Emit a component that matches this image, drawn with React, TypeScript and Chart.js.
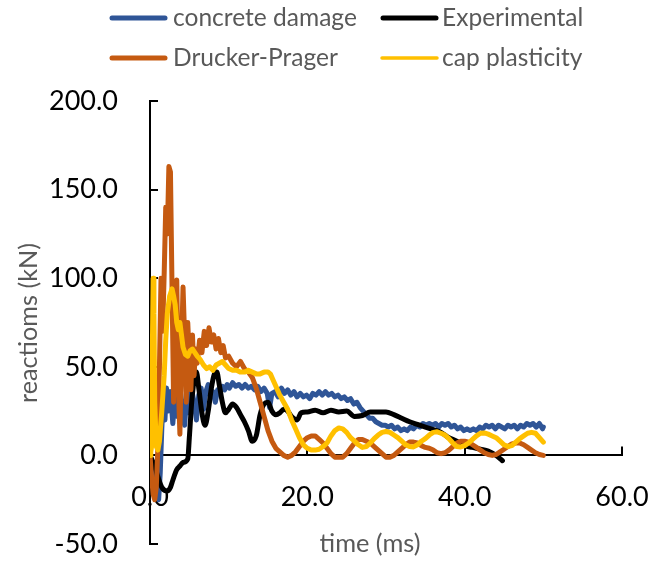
import React, { useEffect, useRef } from "react";
import { Chart, registerables } from "chart.js";

Chart.register(...registerables);

const FONT = "Lato, 'Liberation Sans', sans-serif";

// ---- axis ticks ----
const xTicks = [0, 20, 40, 60];
const yTicks = [-50, 0, 50, 100, 150, 200];

// ---- series labels ----
const labelConcrete = "concrete damage";
const labelExperimental = "Experimental";
const labelDrucker = "Drucker-Prager";
const labelCap = "cap plasticity";

// ---- Experimental (black) ----
const expT = [0, 0.5, 1.0, 1.5, 2.0, 2.2, 2.6, 2.9, 3.4, 3.8, 4.2, 4.8, 5.0, 5.3, 5.6, 5.9, 6.2, 6.6, 7.0, 7.4, 7.8, 8.2, 8.5, 8.8, 9.2, 9.6, 10.0, 10.5, 11.0, 11.5, 12.0, 12.5, 13.0, 13.5, 14.0, 14.5, 15.0, 15.5, 16.0, 16.5, 17.0, 17.5, 18.0, 18.7, 19.2, 20.0, 21.0, 22.0, 23.0, 24.0, 25.0, 26.0, 27.0, 28.0, 29.0, 30.0, 31.0, 32.0, 33.0, 34.0, 35.0, 36.0, 37.0, 38.0, 39.0, 40.0, 41.0, 42.0, 43.0, 44.0, 44.8];
const expV = [0, -5, -12, -18, -20, -20, -18, -14, -8, -6, -4, -2, 10, 30, 42, 47, 38, 24, 17, 25, 38, 46, 47, 40, 30, 24, 26, 29, 27, 23, 19, 14, 8, 11, 23, 29, 30, 25, 23, 24, 26, 25, 22, 20, 24, 24.5, 25.5, 24, 25.5, 24.5, 25, 22, 22.5, 24.5, 24.5, 24.5, 23, 21, 19, 17.5, 16, 14.5, 13, 10, 8, 5.5, 4.5, 3.5, 2.5, 0, -3];

// ---- concrete damage (blue) ----
const cdT = [0, 0.3, 0.6, 0.9, 1.1, 1.3, 1.5, 1.7, 1.9, 2.1, 2.3, 2.6, 2.9, 3.2, 3.5, 3.8, 4.1, 4.4, 4.7, 5.0, 5.3, 5.6, 5.9, 6.2, 6.5, 6.8, 7.1, 7.4, 7.7, 8.0, 8.3, 8.6, 8.9, 9.2, 9.5, 9.8, 10.1, 10.5, 10.9, 11.3, 11.7, 12.1, 12.5, 12.9, 13.3, 13.7, 14.1, 14.5, 14.9, 15.2, 15.5, 15.9, 16.3, 16.7, 17.1, 17.5, 17.9, 18.3, 18.7, 19.1, 19.5, 19.9, 20.3, 20.7, 21.1, 21.5, 21.9, 22.3, 22.7, 23.1, 23.5, 23.9, 24.3, 24.7, 25.1, 25.5, 25.9, 26.3, 26.7, 27.1, 27.5, 27.9, 28.3, 28.7, 29.1, 29.5, 29.9, 30.3, 30.7, 31.1, 31.5, 31.9, 32.3, 32.7, 33.1, 33.5, 33.9, 34.3, 34.7, 35.1, 35.5, 35.9, 36.3, 36.7, 37.1, 37.5, 37.9, 38.3, 38.7, 39.1, 39.5, 39.9, 40.3, 40.7, 41.1, 41.5, 41.9, 42.3, 42.7, 43.1, 43.5, 43.9, 44.3, 44.7, 45.1, 45.5, 45.9, 46.3, 46.7, 47.1, 47.5, 47.9, 48.3, 48.7, 49.1, 49.5, 49.9, 50.0];
const cdV = [0, -5, -15, -23, -25, -10, 15, 35, 20, 38, 25, 36, 18, 35, 22, 38, 28, 17, 36, 24, 37, 30, 20, 34, 38, 26, 36, 40, 33, 36, 30, 37, 36, 39, 37, 40, 38, 41, 39, 40, 38, 40, 38, 39, 37, 39, 36, 38, 35, 27, 35, 36, 33, 38, 35, 37, 34, 36, 33, 35, 33, 34, 32, 35, 34, 36, 34, 36, 34, 35, 33, 34, 32, 33, 31, 32, 29, 30, 27, 25, 23, 21, 21, 19, 18, 17, 17, 16, 17, 15, 16, 14, 15, 14, 16, 15, 17, 16, 18, 17, 18, 17, 18, 16, 18, 17, 18, 16, 17, 15, 16, 14, 15, 14, 15, 14, 16, 15, 17, 16, 17, 15, 17, 16, 15, 17, 16, 17, 15, 17, 16, 18, 17, 18, 16, 18, 15, 16];

// ---- Drucker-Prager (orange) ----
const dpT = [0, 0.2, 0.4, 0.6, 0.8, 1.0, 1.2, 1.4, 1.6, 1.8, 2.0, 2.2, 2.4, 2.6, 2.8, 3.0, 3.2, 3.4, 3.6, 3.8, 4.0, 4.2, 4.4, 4.6, 4.8, 5.0, 5.2, 5.4, 5.6, 5.8, 6.0, 6.3, 6.6, 6.9, 7.2, 7.5, 7.8, 8.1, 8.4, 8.7, 9.0, 9.3, 9.6, 10.0, 10.5, 11.0, 11.5, 12.0, 12.5, 13.0, 13.5, 14.0, 14.5, 15.0, 15.5, 16.0, 16.5, 17.0, 17.5, 18.0, 18.5, 19.0, 19.5, 20.0, 20.5, 21.0, 21.5, 22.0, 22.5, 23.0, 23.5, 24.0, 24.5, 25.0, 25.5, 26.0, 26.5, 27.0, 27.5, 28.0, 28.5, 29.0, 29.5, 30.0, 30.5, 31.0, 31.5, 32.0, 32.5, 33.0, 33.5, 34.0, 34.5, 35.0, 35.5, 36.0, 36.5, 37.0, 37.5, 38.0, 38.5, 39.0, 39.5, 40.0, 40.5, 41.0, 41.5, 42.0, 42.5, 43.0, 43.5, 44.0, 44.5, 45.0, 45.5, 46.0, 46.5, 47.0, 47.5, 48.0, 48.5, 49.0, 49.5, 50.0];
const dpV = [0, -12, -22, -25, -18, 5, 50, 100, 70, 102, 140, 125, 163, 160, 95, 30, 85, 99, 40, 12, 60, 95, 67, 30, 75, 55, 37, 68, 45, 60, 52, 65, 58, 70, 62, 72, 64, 68, 60, 66, 58, 62, 55, 56, 52, 50, 53, 49, 47, 44, 38, 30, 22, 14, 8, 4, 2, 0, -1, 0, 2, 5, 8, 10, 11, 11, 9, 7, 4, 1, -1, -1, -1, 1, 4, 7, 9, 9, 8, 7, 5, 3, 1, -1, -1, 0, 2, 4, 6, 7.5, 7.5, 7, 5.5, 4.5, 4, 3, 1.5, 1, 1.5, 3, 5, 7, 8, 8, 7.5, 6, 4.5, 3, 1.5, 0.5, 0, 0.5, 2, 3.5, 5, 6.5, 7, 7, 6, 4.5, 3, 1.5, 0.5, 0];

// ---- cap plasticity (yellow) ----
const cpT = [0, 0.1, 0.2, 0.3, 0.4, 0.5, 0.6, 0.8, 1.0, 1.2, 1.5, 1.8, 2.0, 2.2, 2.5, 2.8, 3.0, 3.2, 3.4, 3.6, 3.8, 4.0, 4.2, 4.5, 4.8, 5.1, 5.4, 5.7, 6.0, 6.4, 6.8, 7.2, 7.6, 8.0, 8.4, 8.8, 9.2, 9.6, 10.0, 10.5, 11.0, 11.5, 12.0, 12.5, 13.0, 13.5, 14.0, 14.5, 15.0, 15.3, 15.6, 16.0, 16.5, 17.0, 17.5, 18.0, 18.5, 19.0, 19.5, 20.0, 20.5, 21.0, 21.5, 22.0, 22.5, 23.0, 23.5, 24.0, 24.5, 25.0, 25.5, 26.0, 26.5, 27.0, 27.5, 28.0, 28.5, 29.0, 29.5, 30.0, 30.5, 31.0, 31.5, 32.0, 32.5, 33.0, 33.5, 34.0, 34.5, 35.0, 35.5, 36.0, 36.5, 37.0, 37.5, 38.0, 38.5, 39.0, 39.5, 40.0, 40.5, 41.0, 41.5, 42.0, 42.5, 43.0, 43.5, 44.0, 44.5, 45.0, 45.5, 46.0, 46.5, 47.0, 47.5, 48.0, 48.5, 49.0, 49.5, 50.0];
const cpV = [0, 2, 5, 60, 100, 80, 30, 5, 3, 8, 25, 45, 65, 80, 90, 94, 90, 85, 75, 71, 75, 68, 61, 57, 56, 59, 60, 58, 56, 54, 51, 49, 50, 48, 51, 52, 53, 51, 49, 48, 48, 47, 47, 48, 47, 46, 46, 47, 47, 46, 43, 39, 34, 30, 26, 20, 15, 10, 6, 4, 3, 3, 3.5, 5, 7, 11, 14, 15.5, 15, 13, 10, 8, 6, 4.5, 5, 7, 9.5, 11.5, 13, 13.5, 13, 11.5, 10, 8, 6, 5, 4.8, 6, 8, 9.5, 11.5, 13, 13.3, 12.5, 11.5, 9.5, 7, 5, 4.8, 5.5, 7, 9, 11, 12.5, 12.7, 12, 11, 10, 8, 6, 5, 5.5, 7.5, 9.5, 11, 12.5, 13, 12.5, 10, 7.5];

const COLORS = {
  concrete: "#2F5597",
  experimental: "#000000",
  drucker: "#C55A11",
  cap: "#FFC000",
};

function pts(t: number[], v: number[]) {
  return t.map((x, i) => ({ x, y: v[i] }));
}

function fitFont(ctx: CanvasRenderingContext2D, text: string, target: number, base = 24) {
  ctx.font = `${base}px ${FONT}`;
  const w = ctx.measureText(text).width;
  return (base * target) / w;
}

const decorPlugin = {
  id: "decor",
  beforeDatasetsDraw(chart: any) {
    const { ctx, chartArea } = chart;
    const xs = chart.scales.x;
    const ys = chart.scales.y;
    const y0 = ys.getPixelForValue(0);
    ctx.save();
    ctx.strokeStyle = "#000";
    ctx.lineWidth = 2;
    ctx.beginPath();
    for (const v of yTicks) {
      const py = Math.round(ys.getPixelForValue(v));
      ctx.moveTo(chartArea.left, py);
      ctx.lineTo(chartArea.left + 8, py);
    }
    for (const v of xTicks) {
      const px = Math.round(xs.getPixelForValue(v));
      ctx.moveTo(px, y0);
      ctx.lineTo(px, y0 - 9);
    }
    ctx.stroke();
    ctx.restore();
  },
  afterDraw(chart: any) {
    const { ctx } = chart;
    ctx.save();
    // legend
    const ds = chart.data.datasets;
    const legendOrder = [
      { i: 0, x0: 112, x1: 165, tx: 173, y: 18, w: 5 },
      { i: 1, x0: 383, x1: 436, tx: 442, y: 18, w: 5 },
      { i: 2, x0: 112, x1: 165, tx: 173, y: 58, w: 5 },
      { i: 3, x0: 382, x1: 437, tx: 442, y: 58, w: 3.5 },
    ];
    const legSize = fitFont(ctx, labelConcrete, 184);
    ctx.font = `${legSize}px ${FONT}`;
    ctx.textBaseline = "middle";
    ctx.textAlign = "left";
    for (const it of legendOrder) {
      const d = ds[it.i];
      ctx.strokeStyle = d.borderColor;
      ctx.lineWidth = it.w;
      ctx.lineCap = "round";
      ctx.beginPath();
      ctx.moveTo(it.x0, it.y);
      ctx.lineTo(it.x1, it.y);
      ctx.stroke();
      ctx.fillStyle = "#595959";
      ctx.fillText(d.label, it.tx, it.y);
    }
    // x title
    const xt = "time (ms)";
    ctx.font = `${fitFont(ctx, xt, 101)}px ${FONT}`;
    ctx.fillStyle = "#595959";
    ctx.textAlign = "center";
    ctx.textBaseline = "middle";
    ctx.fillText(xt, 370, 544);
    // y title
    const yt = "reactioms (kN)";
    ctx.font = `${fitFont(ctx, yt, 160)}px ${FONT}`;
    ctx.translate(29, 323);
    ctx.rotate(-Math.PI / 2);
    ctx.fillText(yt, 0, 0);
    ctx.restore();
  },
};

export default function App() {
  const ref = useRef<HTMLCanvasElement | null>(null);
  useEffect(() => {
    if (!ref.current) return;
    const tickFont = { family: FONT, size: 27 };
    const chart = new Chart(ref.current, {
      type: "scatter",
      data: {
        datasets: [
          { label: labelConcrete, data: pts(cdT, cdV), borderColor: COLORS.concrete, backgroundColor: COLORS.concrete, borderWidth: 5, showLine: true, pointRadius: 0, order: 4 },
          { label: labelExperimental, data: pts(expT, expV), borderColor: COLORS.experimental, backgroundColor: COLORS.experimental, borderWidth: 5, showLine: true, pointRadius: 0, order: 3, cubicInterpolationMode: "monotone" },
          { label: labelDrucker, data: pts(dpT, dpV), borderColor: COLORS.drucker, backgroundColor: COLORS.drucker, borderWidth: 5, showLine: true, pointRadius: 0, order: 2 },
          { label: labelCap, data: pts(cpT, cpV), borderColor: COLORS.cap, backgroundColor: COLORS.cap, borderWidth: 5, showLine: true, pointRadius: 0, order: 1 },
        ],
      },
      options: {
        responsive: false,
        animation: false,
        devicePixelRatio: 1,
        layout: { padding: { left: 0, right: 43, top: 101, bottom: 17 } },
        elements: { line: { borderJoinStyle: "round", borderCapStyle: "round" } },
        plugins: { legend: { display: false }, tooltip: { enabled: false } },
        scales: {
          x: {
            type: "linear",
            axis: "x",
            min: 0,
            max: 60,
            position: { y: 0 },
            ticks: { stepSize: 20, callback: (v: any) => Number(v).toFixed(1), font: tickFont, color: "#000", padding: 26, maxRotation: 0, autoSkip: false },
            grid: { display: true, drawOnChartArea: false, drawTicks: false },
            border: { display: true, color: "#000", width: 2 },
            afterFit: (s: any) => { s.height = 0; s.paddingLeft = 0; s.paddingRight = 0; s.paddingTop = 0; s.paddingBottom = 0; },
          },
          y: {
            type: "linear",
            min: -50,
            max: 200,
            position: "left",
            ticks: { stepSize: 50, callback: (v: any) => Number(v).toFixed(1), font: tickFont, color: "#000", padding: 32 },
            grid: { display: true, drawOnChartArea: false, drawTicks: false },
            border: { display: true, color: "#000", width: 2 },
            afterFit: (s: any) => { s.width = 150; s.paddingTop = 0; s.paddingBottom = 0; },
          },
        },
      } as any,
      plugins: [decorPlugin],
    });
    return () => chart.destroy();
  }, []);
  return (
    <div style={{ position: "fixed", left: 0, top: 0, width: 665, height: 561 }}>
      <canvas ref={ref} width={665} height={561} style={{ width: 665, height: 561 }} />
    </div>
  );
}
